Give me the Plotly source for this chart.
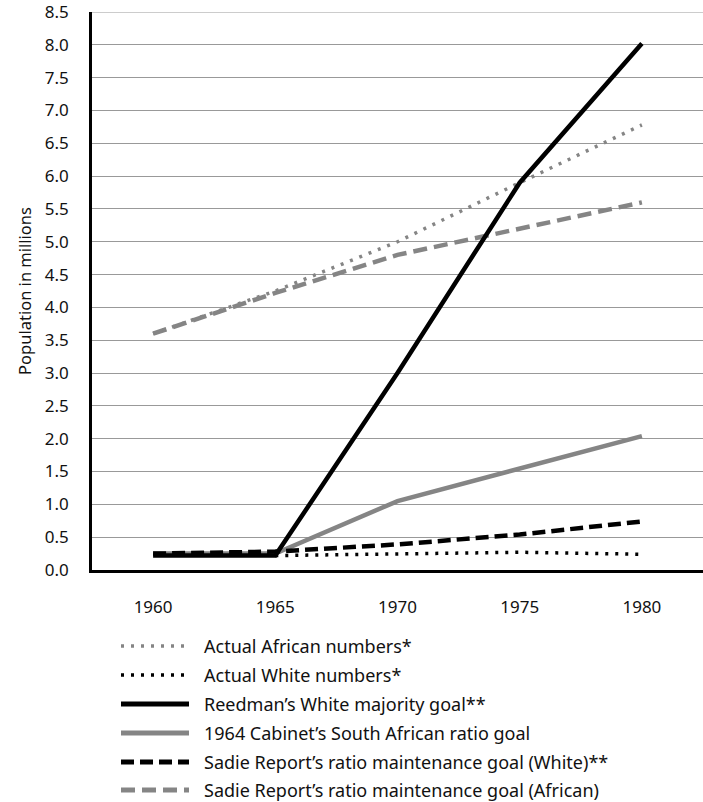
import plotly.graph_objects as go

years = ["1960", "1965", "1970", "1975", "1980"]

actual_african = [3.6, 4.25, 5.0, 5.9, 6.78]
actual_white = [None, 0.22, 0.24, 0.27, 0.24]
reedman_white = [0.22, 0.22, 3.0, 5.9, 8.02]
cabinet_ratio = [0.25, 0.25, 1.05, 1.55, 2.04]
sadie_white = [0.25, 0.28, 0.39, 0.54, 0.74]
sadie_african = [3.6, 4.22, 4.8, 5.2, 5.6]

names = [
    "Actual African numbers*",
    "Actual White numbers*",
    "Reedman\u2019s White majority goal**",
    "1964 Cabinet\u2019s South African ratio goal",
    "Sadie Report\u2019s ratio maintenance goal (White)**",
    "Sadie Report\u2019s ratio maintenance goal (African)",
]

y_ticks = [i * 0.5 for i in range(18)]

GRAY = "#858585"
BLACK = "#000000"

series = [
    (actual_african, GRAY, 3.5, "3px,7px"),
    (actual_white, BLACK, 3.5, "3px,7px"),
    (reedman_white, BLACK, 4.5, "solid"),
    (cabinet_ratio, GRAY, 4.5, "solid"),
    (sadie_white, BLACK, 4.5, "13px,6px"),
    (sadie_african, GRAY, 4.5, "14px,7px"),
]

draw_order = [5, 0, 3, 4, 1, 2]

fig = go.Figure()
for i in draw_order:
    vals, col, w, dash = series[i]
    fig.add_trace(go.Scatter(
        x=years, y=vals, mode="lines", name=names[i],
        line=dict(color=col, width=w, dash=dash),
        connectgaps=False, showlegend=False,
    ))

W, H = 703, 802
ml, mr, mt = 92, 0, 12
plot_bottom = 570
mb = H - plot_bottom
pw = W - ml - mr
ph = H - mt - mb


def px2paper_x(px):
    return (px - ml) / pw


def px2paper_y(py):
    return (plot_bottom - py) / ph


# top gridline (plotly drops the grid line that sits on the range edge)
shapes = [dict(
    type="line", xref="paper", yref="y", x0=0, x1=1,
    y0=y_ticks[-1], y1=y_ticks[-1], layer="below",
    line=dict(color="#999999", width=1),
)]

# manual legend (positions in page pixels)
row_y = [646, 675, 704, 733, 762, 790]
sym_x0, sym_x1, text_x = 121, 189, 202
annotations = []
for k in range(6):
    vals, col, w, dash = series[k]
    yy = px2paper_y(row_y[k])
    lw = 3.5 if w < 4 else 5
    shapes.append(dict(
        type="line", xref="paper", yref="paper",
        x0=px2paper_x(sym_x0), x1=px2paper_x(sym_x1), y0=yy, y1=yy,
        line=dict(color=col, width=lw, dash=dash),
    ))
    annotations.append(dict(
        xref="paper", yref="paper", x=px2paper_x(text_x), y=yy,
        text=names[k], showarrow=False, xanchor="left", yanchor="middle",
        font=dict(size=18, color="#111111"),
    ))

fig.update_layout(
    width=W, height=H,
    margin=dict(l=ml, r=mr, t=mt, b=mb),
    paper_bgcolor="white", plot_bgcolor="white",
    font=dict(family="Noto Sans", size=17, color="#111111"),
    shapes=shapes, annotations=annotations,
    showlegend=False,
)
fig.update_xaxes(
    type="category", range=[-0.5, 4.5],
    showline=True, linecolor="black", linewidth=2.5,
    showgrid=False, ticks="", ticklabelstandoff=20,
    tickfont=dict(size=17), fixedrange=True,
)
fig.update_yaxes(
    range=[0, 8.5], tickvals=y_ticks, tickformat=".1f",
    showline=True, linecolor="black", linewidth=2.5,
    showgrid=True, gridcolor="#999999", gridwidth=1,
    zeroline=False, ticks="", ticklabelstandoff=17,
    tickfont=dict(size=17), ticklabeloverflow="allow",
    title=dict(text="Population in millions", font=dict(size=16.5), standoff=10),
    fixedrange=True,
)

fig.write_html(
    "out.html",
    config={"displayModeBar": False},
    post_script="document.body.style.margin='0';",
)
